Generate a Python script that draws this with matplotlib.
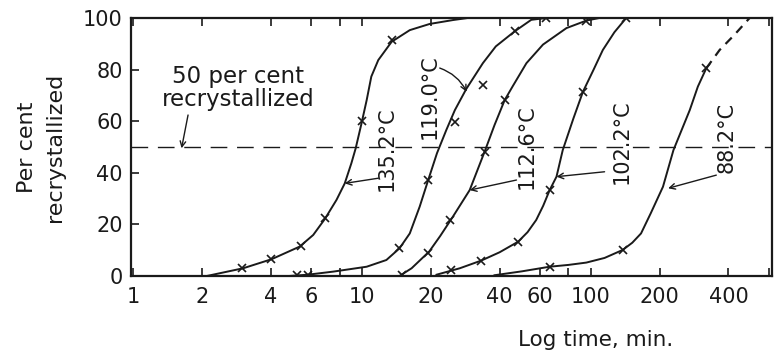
import numpy as np
import matplotlib.pyplot as plt

# values: time in minutes, per cent recrystallized
# 135.2 C
t_135 = [2.1, 3.03, 4.03, 5.35, 6.13, 6.88, 7.75, 8.42, 9.0, 9.4, 9.97, 10.5, 11.0,
         11.8, 13.5, 16.2, 19.8, 25, 29]
p_135 = [0, 3.0, 6.5, 11.4, 15.9, 22.0, 29.5, 35.9, 43.7, 49.5, 59.2, 68.2, 77.3,
         83.7, 90.8, 95.3, 97.7, 99.2, 100]
mt_135 = [3.0, 4.0, 5.4, 6.9, 10.0, 13.6]
mp_135 = [3.0, 6.5, 11.6, 22.4, 60, 91.5]

# 119.0 C
t_119 = [4.8, 5.8, 7.5, 10.5, 12.8, 14.6, 16.2, 17.9, 19.5, 21.3, 23.4, 25.5, 28.6,
         33.8, 38.5, 46.5, 55, 64]
p_119 = [0, 0.5, 1.7, 3.6, 6.2, 10.7, 16.5, 26.9, 37.2, 47.6, 56.6, 64.3, 72.5,
         82.5, 89, 94.8, 99.3, 100]
mt_119 = [5.2, 5.8, 14.6, 19.5, 25.5, 33.9, 46.5, 64]
mp_119 = [0.3, 0.5, 10.7, 37.2, 59.8, 74.0, 94.8, 100]

# 112.6 C
t_112 = [14.6, 16.5, 19.7, 22, 25.0, 29.6, 34.4, 38, 42.1, 45.6, 52.4, 61.9, 78.4, 95.8, 109]
p_112 = [0, 3.0, 9.5, 15.5, 23.0, 33.3, 48.2, 58.5, 68.2, 73.5, 82.5, 89.7, 96.1, 99, 100]
mt_112 = [15.0, 19.5, 24.2, 34.4, 42.1, 95.8]
mp_112 = [0.5, 8.8, 21.7, 48.2, 68.2, 99]

# 102.2 C
t_102 = [21.2, 26.8, 33.3, 40, 48.2, 53, 57.8, 62, 66.2, 70.9, 75.5, 84, 92.5, 103,
         113, 127, 143]
p_102 = [0.5, 3.0, 6.0, 9.2, 13.3, 17.0, 21.7, 27.2, 33.3, 38.5, 48.8, 61, 71.4, 80,
         87.6, 94.5, 100]
mt_102 = [24.6, 33.3, 48.2, 66.2, 92.5, 143]
mp_102 = [2.3, 6.0, 13.3, 33.3, 71.4, 100]

# 88.2 C (last part dashed = extrapolated)
t_88 = [38, 50, 66.2, 80, 95.7, 115, 138, 152, 166, 183, 207, 230, 271, 294, 320]
p_88 = [0.3, 1.8, 3.6, 4.3, 5.2, 7.0, 10.1, 12.9, 16.5, 24.3, 34.6, 48.8, 64.3, 73.4, 80.5]
t_88_ext = [320, 366, 424, 495]
p_88_ext = [80.5, 87.6, 93.4, 100]
mt_88 = [66.2, 138, 320]
mp_88 = [3.6, 10.1, 80.5]

xticks_major = [1, 2, 4, 6, 10, 20, 40, 60, 100, 200, 400]
xticks_minor = [8, 80, 600]
yticks = [0, 20, 40, 60, 80, 100]

ink = '#1a1a1a'
plt.rcParams['font.family'] = ['DejaVu Sans']

fig = plt.figure(figsize=(7.8, 3.55), dpi=100)
ax = fig.add_axes([131 / 780, 1 - 276 / 355, 641 / 780, 258 / 355])

curves = [(t_135, p_135, mt_135, mp_135), (t_119, p_119, mt_119, mp_119),
          (t_112, p_112, mt_112, mp_112), (t_102, p_102, mt_102, mp_102),
          (t_88, p_88, mt_88, mp_88)]
for t, p, mt, mp in curves:
    ax.plot(t, p, color=ink, lw=1.4, solid_joinstyle='round', zorder=3)
    ax.plot(mt, mp, 'x', color=ink, ms=6, mew=1.2, zorder=4)
ax.plot(t_88_ext, p_88_ext, color=ink, lw=1.6, ls=(0, (4, 3)), zorder=3)

# 50 per cent line
ax.axhline(50, color=ink, lw=1.0, ls=(0, (12, 7)), zorder=2)

ax.set_xscale('log')
ax.set_xlim(0.98, 620)
ax.set_ylim(0, 100)
ax.set_xticks(xticks_major)
ax.set_xticklabels([str(v) for v in xticks_major])
ax.set_xticks(xticks_minor, minor=True)
ax.set_yticks(yticks)
ax.tick_params(axis='x', which='both', direction='in', top=True, length=6,
               width=1.2, labelsize=15, pad=8, colors=ink)
ax.tick_params(axis='y', direction='in', length=6, width=1.2, labelsize=15,
               pad=6, colors=ink)
for s in ax.spines.values():
    s.set_linewidth(1.6)
    s.set_color(ink)

arrow = dict(arrowstyle='->', color=ink, lw=1.0, shrinkA=0, shrinkB=0)
tkw = dict(rotation=90, ha='center', va='center', fontsize=15, color=ink)

ax.text(12.8, 49.2, '135.2°C', **tkw)
ax.annotate('', xy=(8.42, 35.9), xytext=(11.8, 37.9), arrowprops=arrow)

ax.text(19.8, 69.4, '119.0°C', **tkw)
ax.annotate('', xy=(28.7, 71.4), xytext=(21.9, 80.6),
            arrowprops=dict(arrow, connectionstyle='arc3,rad=-0.2'))

ax.text(52.4, 50, '112.6°C', **tkw)
ax.annotate('', xy=(29.6, 33.3), xytext=(47.4, 37.2), arrowprops=arrow)

ax.text(136, 52, '102.2°C', **tkw)
ax.annotate('', xy=(70.9, 38.5), xytext=(115, 40.4), arrowprops=arrow)

ax.text(391, 53.9, '88.2°C', **tkw)
ax.annotate('', xy=(218, 34), xytext=(354, 39.1), arrowprops=arrow)

ax.text(2.87, 73, '50 per cent\nrecrystallized', ha='center', va='center',
        fontsize=16.5, color=ink, linespacing=1.0)
ax.annotate('', xy=(1.63, 49.5), xytext=(1.74, 62.4), arrowprops=arrow)

fig.text(41 / 780, 1 - 147 / 355, 'Per cent\nrecrystallized', rotation=90,
         ha='center', va='center', fontsize=16, color=ink, linespacing=1.5,
         multialignment='center')
fig.text(596 / 780, 1 - 340 / 355, 'Log time, min.', ha='center', va='center',
         fontsize=15.5, color=ink)

fig.savefig('out.png', dpi=100, facecolor='white')
